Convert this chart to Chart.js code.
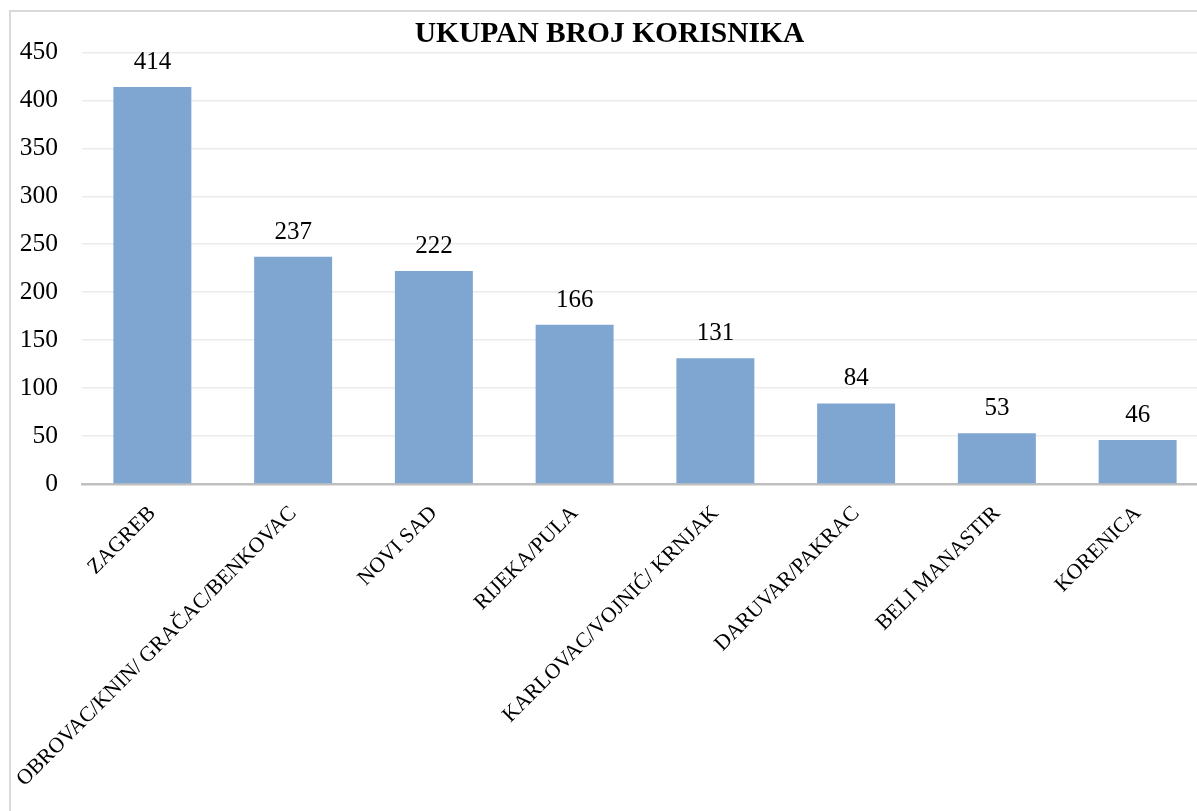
<!DOCTYPE html>
<html>
<head>
<meta charset="utf-8">
<script src="https://cdn.jsdelivr.net/npm/chart.js@4.4.1/dist/chart.umd.min.js"></script>
<style>
  html, body { margin: 0; padding: 0; background: #fff; overflow: hidden; }
  #box { position: absolute; left: 9px; top: 10px; border: 2px solid #d9d9d9; width: 1200px; height: 820px; }
  canvas { display: block; }
</style>
</head>
<body>
<div id="box"><canvas id="myChart" width="1200" height="820"></canvas></div>
<script>
const categories = ["ZAGREB", "OBROVAC/KNIN/ GRAČAC/BENKOVAC", "NOVI SAD", "RIJEKA/PULA",
  "KARLOVAC/VOJNIĆ/ KRNJAK", "DARUVAR/PAKRAC", "BELI MANASTIR", "KORENICA"];
const users = [414, 237, 222, 166, 131, 84, 53, 46];
const yTicks = [0, 50, 100, 150, 200, 250, 300, 350, 400, 450];

const serif = '"Liberation Serif", "Times New Roman", serif';

// draws the value above each bar
const valueLabels = {
  id: 'valueLabels',
  afterDatasetsDraw(chart) {
    const c = chart.ctx;
    const meta = chart.getDatasetMeta(0);
    c.save();
    c.font = '25px ' + serif;
    c.fillStyle = '#000';
    c.textAlign = 'center';
    c.textBaseline = 'alphabetic';
    meta.data.forEach((bar, i) => {
      c.fillText(String(users[i]), bar.x, bar.y - 18);
    });
    c.restore();
  }
};

const ctx = document.getElementById('myChart').getContext('2d');
const myChart = new Chart(ctx, {
  type: 'bar',
  data: {
    labels: categories,
    datasets: [{
      label: 'UKUPAN BROJ KORISNIKA',
      data: users,
      backgroundColor: '#7FA6D0',
      barPercentage: 0.554,
      categoryPercentage: 1
    }]
  },
  options: {
    responsive: false,
    animation: false,
    layout: { padding: { right: 3 } },
    plugins: {
      legend: { display: false },
      tooltip: { enabled: false },
      title: {
        display: true,
        text: 'UKUPAN BROJ KORISNIKA',
        color: '#000',
        font: { family: serif, size: 29.5, weight: 'bold' },
        padding: { top: 5, bottom: 0 }
      }
    },
    scales: {
      y: {
        min: 0,
        max: 450,
        afterBuildTicks: (scale) => { scale.ticks = yTicks.map(v => ({ value: v })); },
        afterFit: (scale) => { scale.width = 71; },
        border: { display: false },
        grid: { color: '#ebebeb', lineWidth: 1.5, drawTicks: false },
        ticks: { color: '#000', font: { family: serif, size: 25.5 }, padding: 24 }
      },
      x: {
        afterFit: (scale) => { scale.height = 348; },
        border: { color: '#bfbfbf', width: 2.5 },
        grid: { display: false },
        ticks: {
          color: '#000',
          font: { family: serif, size: 21.5 },
          minRotation: 45,
          maxRotation: 45,
          padding: 9,
          autoSkip: false
        }
      }
    }
  },
  plugins: [valueLabels]
});
</script>
</body>
</html>
